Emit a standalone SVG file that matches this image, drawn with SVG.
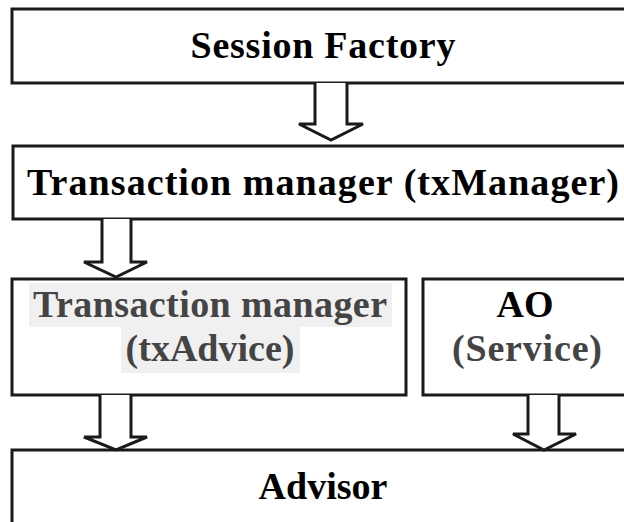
<svg xmlns="http://www.w3.org/2000/svg" width="624" height="522" viewBox="0 0 624 522">
<style>
.box{fill:#fff;stroke:#1a1a1a;stroke-width:3}
.arrow{fill:#fff;stroke:#1a1a1a;stroke-width:3;stroke-linejoin:miter}
.t{font-family:"Liberation Serif","Times New Roman",serif;font-weight:bold;font-size:38px;fill:#000;text-anchor:middle}
.g{fill:#444}
.hl{fill:#f0f0f0}
</style>
<rect width="624" height="522" fill="#fff"/>
<g id="session-factory">
<rect class="box" x="12" y="9" width="624" height="74"/>
<text class="t" x="323" y="58" textLength="265" lengthAdjust="spacing">Session Factory</text>
</g>
<g id="tx-manager">
<rect class="box" x="13" y="146" width="624" height="73"/>
<text class="t" x="323" y="195" textLength="592" lengthAdjust="spacing">Transaction manager (txManager)</text>
</g>
<g id="tx-advice">
<rect class="box" x="12" y="279" width="394" height="116"/>
<rect class="hl" x="29" y="283" width="363" height="44"/>
<rect class="hl" x="121" y="327" width="179" height="46"/>
<text class="t g" x="210" y="317" textLength="354" lengthAdjust="spacing">Transaction manager</text>
<text class="t g" x="210" y="361">(txAdvice)</text>
</g>
<g id="ao-service">
<rect class="box" x="423" y="279" width="214" height="116"/>
<text class="t" x="525" y="317">AO</text>
<text class="t g" x="527" y="361" textLength="150" lengthAdjust="spacing">(Service)</text>
</g>
<g id="advisor">
<rect class="box" x="12" y="450" width="624" height="80"/>
<text class="t" x="323" y="499">Advisor</text>
</g>
<g id="connectors">
<path class="arrow" d="M315,83 V124 H299 L331,140 L363,124 H347 V83"/>
<path class="arrow" d="M102,219 V262 H84 L116,277 L147,262 H131 V219"/>
<path class="arrow" d="M100,395 V437 H84 L116,450 L147,437 H131 V395"/>
<path class="arrow" d="M528,395 V434 H513 L544,450 L576,434 H559 V395"/>
</g>
</svg>
